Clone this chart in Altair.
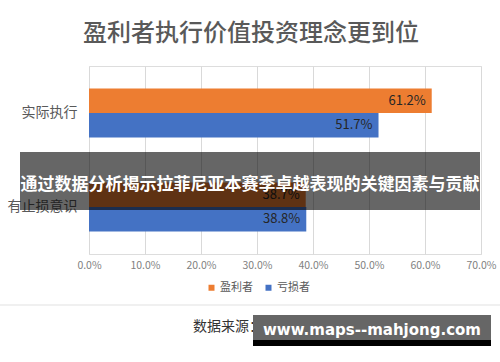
import altair as alt
import pandas as pd

categories = ["实际执行", "有止损意识"]
series = ["盈利者", "亏损者"]
profit_values = [61.2, 38.7]
loss_values = [51.7, 38.8]
x_ticks = [0, 10, 20, 30, 40, 50, 60, 70]
colors = ["#ED7D31", "#4472C4"]

rows = []
for i, c in enumerate(categories):
    rows.append({"category": c, "series": series[0], "value": profit_values[i]})
    rows.append({"category": c, "series": series[1], "value": loss_values[i]})
df = pd.DataFrame(rows)
df["label"] = df["value"].map(lambda v: f"{v:.1f}%")

FONT = "Noto Sans CJK SC"

base = alt.Chart(df).encode(
    y=alt.Y("category:N", sort=categories,
            scale=alt.Scale(paddingInner=0.48, paddingOuter=0.24),
            axis=alt.Axis(title=None, domain=False, ticks=False, labelPadding=12,
                          labelFontSize=14, labelColor="#595959", labelFont=FONT)),
    yOffset=alt.YOffset("series:N", sort=series,
                        scale=alt.Scale(paddingInner=0, paddingOuter=0)),
)

bars = base.mark_bar().encode(
    x=alt.X("value:Q", scale=alt.Scale(domain=[0, 70], nice=False),
            axis=alt.Axis(title=None, values=x_ticks, domain=False, ticks=False,
                          labelExpr="format(datum.value, '.1f') + '%'",
                          labelFontSize=10.5, labelColor="#7f7f7f", labelPadding=6,
                          labelFont=FONT, gridColor="#d9d9d9", grid=True,
                          labelFlush=False, labelOverlap=False)),
    color=alt.Color("series:N", sort=series,
                    scale=alt.Scale(domain=series, range=colors),
                    legend=alt.Legend(title=None, orient="none", direction="horizontal",
                                      legendX=117, legendY=216, symbolType="square",
                                      symbolSize=36, labelFontSize=11, labelColor="#595959",
                                      labelFont=FONT, columnPadding=10, labelOffset=3,
                                      symbolStrokeWidth=0)),
)

labels = base.mark_text(align="right", baseline="middle", dx=-6, fontSize=13,
                        color="#262626", font=FONT).encode(
    x=alt.X("value:Q"),
    text="label:N",
)

one = pd.DataFrame({"a": [0]})

title = alt.Chart(one).mark_text(text="盈利者执行价值投资理念更到位", fontSize=24,
                                 fontWeight=500, color="#595959", font=FONT,
                                 align="center", baseline="middle").encode(
    x=alt.value(162), y=alt.value(-32))

sep = alt.Chart(one).mark_rule(color="#f0f0f0", strokeWidth=2).encode(
    x=alt.value(-89), x2=alt.value(411), y=alt.value(239))

source = alt.Chart(one).mark_text(text="数据来源：深交所", fontSize=14, color="#333333",
                                  font=FONT, align="left", baseline="middle").encode(
    x=alt.value(104), y=alt.value(261))

banner = alt.Chart(one).mark_rect(color="#000000", opacity=0.6).encode(
    x=alt.value(-69), x2=alt.value(391), y=alt.value(86), y2=alt.value(144))

banner_text = alt.Chart(one).mark_text(
    text="通过数据分析揭示拉菲尼亚本赛季卓越表现的关键因素与贡献", fontSize=17,
    fontWeight="bold", color="#ffffff", font=FONT, align="center",
    baseline="middle").encode(x=alt.value(161), y=alt.value(119))

wm_rect = alt.Chart(one).mark_rect(color="#666666").encode(
    x=alt.value(164), x2=alt.value(402), y=alt.value(249), y2=alt.value(274))
wm_strip = alt.Chart(one).mark_rect(color="#000000").encode(
    x=alt.value(164), x2=alt.value(402), y=alt.value(274), y2=alt.value(280))
wm_text = alt.Chart(one).mark_text(text="www.maps--mahjong.com", fontSize=15,
                                   fontWeight="bold", color="#ffffff", font="DejaVu Sans",
                                   align="center", baseline="middle").encode(
    x=alt.value(283), y=alt.value(264))

chart = alt.layer(bars, labels, title, sep, source, banner, banner_text,
                  wm_rect, wm_strip, wm_text).properties(
    width=392, height=188,
    autosize=alt.AutoSizeParams(type="none"),
    padding={"left": 89, "top": 66, "right": 19, "bottom": 108},
).configure_view(stroke=None).configure(background="white")

chart.save("out.html", embed_options={"renderer": "svg", "actions": False})
